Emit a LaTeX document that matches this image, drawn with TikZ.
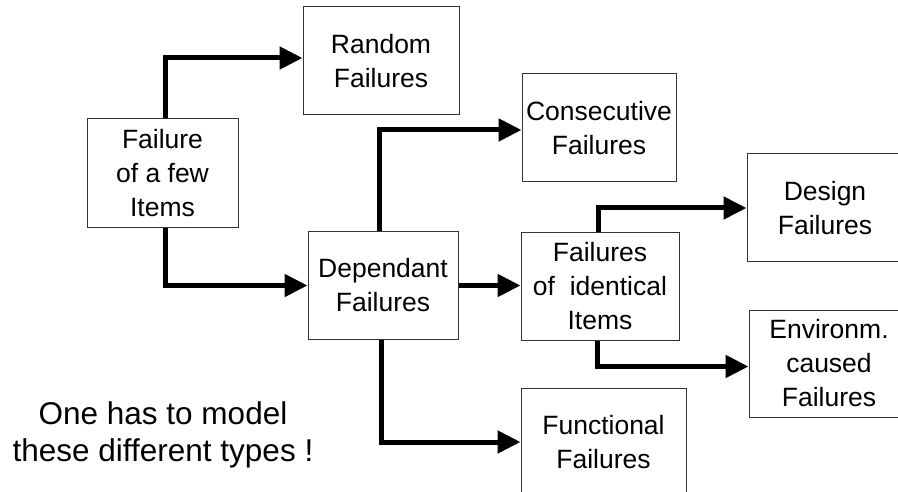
\documentclass[tikz,border=0pt]{standalone}
\usepackage{fontspec}
\setmainfont[Ligatures={NoCommon}]{Liberation Sans}
\usetikzlibrary{arrows.meta}
\begin{document}
\begin{tikzpicture}[x=1pt,y=-1pt,
  box/.style={draw=black!80, line width=1pt, align=center, inner sep=0pt,
    font=\fontsize{26.5}{34}\selectfont},
  flow/.style={line width=5pt, line join=miter,
    -{Triangle[length=23pt,width=22pt]}},
  note/.style={align=center, inner sep=0pt, font=\fontsize{31.5}{36.7}\selectfont},
]
\useasboundingbox (0,0) rectangle (898,492);
\clip (0,0) rectangle (898,492);

% failure categories
\node[box, minimum width=151pt, minimum height=109pt] (few) at (162.5,173.5) {Failure\\of a few\\Items};
\node[box, minimum width=156pt, minimum height=108pt] (random) at (381,61) {Random\\Failures};
\node[box, minimum width=150pt, minimum height=107pt] (dep) at (383,285.5) {Dependant\\Failures};
\node[box, minimum width=154pt, minimum height=108pt] (consec) at (599,128) {Consecutive\\Failures};
\node[box, minimum width=158pt, minimum height=107pt] (ident) at (600,286.5) {Failures\\of~~identical\\Items};
\node[box, minimum width=165pt, minimum height=108pt] (func) at (603.5,442) {Functional\\Failures};
\node[box, minimum width=156pt, minimum height=108pt] (design) at (825,208) {Design\\Failures};
\node[box, minimum width=160pt, minimum height=107pt] (env) at (829,363.5) {Environm.\\caused\\Failures};

% remark
\node[note] (remark) at (163,435) {One has to model\\these different types !};

% connectors
\draw[flow] ([xshift=2.5pt]few.north) |- ([yshift=3pt]random.west);
\draw[flow] ([xshift=2.5pt]few.south) |- (dep.west);
\draw[flow] ([xshift=-4pt]dep.north) |- ([yshift=-2pt]consec.west);
\draw[flow] (dep.east) -- (dep.east -| ident.west);
\draw[flow] ([xshift=-1.5pt]dep.south) |- (func.west);
\draw[flow] ([xshift=-2pt]ident.north) |- (design.west);
\draw[flow] ([xshift=-3pt]ident.south) |- ([yshift=-3pt]env.west);
\end{tikzpicture}
\end{document}
